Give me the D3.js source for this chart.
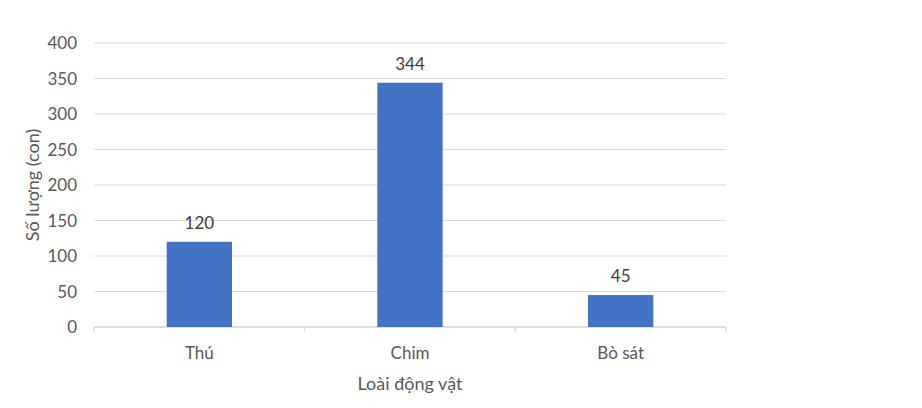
<!DOCTYPE html>
<html>
<head>
<meta charset="utf-8">
<script src="https://cdn.jsdelivr.net/npm/d3@7"></script>
<style>
  body { margin: 0; background: #fff; }
  text { font-family: Lato, "Open Sans", sans-serif; fill: #595959; }
</style>
</head>
<body>
<svg id="chart" width="922" height="408"></svg>
<script>
var categories = ["Thú", "Chim", "Bò sát"];
var counts = [120, 344, 45];
var yTicks = [0, 50, 100, 150, 200, 250, 300, 350, 400];

function drawChart()
{
    const left = 94, right = 726, top = 43, bottom = 327;

    var svg = d3.select("#chart");

    var xScale = d3.scaleBand()
                    .domain(categories)
                    .range([left, right])
                    .padding(0)
    var yScale = d3.scaleLinear()
                    .domain([0, 400])
                    .range([bottom, top])

    // gridlines
    svg.append("g")
        .selectAll("line")
        .data(yTicks)
        .enter().append("line")
        .attr("x1", left)
        .attr("x2", right)
        .attr("y1", (d) => yScale(d))
        .attr("y2", (d) => yScale(d))
        .style("stroke", "#d9d9d9")
        .style("stroke-width", 1)

    // y tick labels
    svg.append("g")
        .selectAll("text")
        .data(yTicks)
        .enter().append("text")
        .attr("text-anchor", "end")
        .attr("x", left - 17)
        .attr("y", (d) => yScale(d) + 6)
        .style("font-size", "17px")
        .text((d) => d)

    // x axis line + category boundary ticks
    svg.append("line")
        .attr("x1", left)
        .attr("x2", right)
        .attr("y1", bottom)
        .attr("y2", bottom)
        .style("stroke", "#d0d0d0")

    var bounds = categories.map((c) => xScale(c)).concat([right]);
    svg.append("g")
        .selectAll("line")
        .data(bounds)
        .enter().append("line")
        .attr("x1", (d) => d)
        .attr("x2", (d) => d)
        .attr("y1", bottom)
        .attr("y2", bottom + 5)
        .style("stroke", "#d0d0d0")

    // bars
    var barW = xScale.bandwidth() * 0.31;
    var bars = svg.selectAll(".bar")
                    .data(categories)
                    .enter().append("g")
                    .attr("class", "bar")

    bars.append("rect")
        .attr("x", (c) => xScale(c) + xScale.bandwidth() / 2 - barW / 2)
        .attr("y", (c, i) => yScale(counts[i]))
        .attr("width", barW)
        .attr("height", (c, i) => bottom - yScale(counts[i]))
        .style("fill", "#4472c4")

    // value labels
    bars.append("text")
        .attr("text-anchor", "middle")
        .attr("x", (c) => xScale(c) + xScale.bandwidth() / 2)
        .attr("y", (c, i) => yScale(counts[i]) - 13)
        .style("font-size", "17px")
        .style("fill", "#404040")
        .text((c, i) => counts[i])

    // category labels
    bars.append("text")
        .attr("text-anchor", "middle")
        .attr("x", (c) => xScale(c) + xScale.bandwidth() / 2)
        .attr("y", bottom + 32)
        .style("font-size", "17px")
        .text((c) => c)

    // axis titles
    svg.append("text")
        .attr("text-anchor", "middle")
        .attr("x", (left + right) / 2)
        .attr("y", bottom + 63)
        .style("font-size", "18px")
        .text("Loài động vật")

    svg.append("g")
        .attr("transform", "translate(39, " + (top + bottom) / 2 + ")")
        .append("text")
        .attr("text-anchor", "middle")
        .attr("transform", "rotate(-90)")
        .style("font-size", "18px")
        .text("Số lượng (con)")
}

drawChart();
</script>
</body>
</html>
